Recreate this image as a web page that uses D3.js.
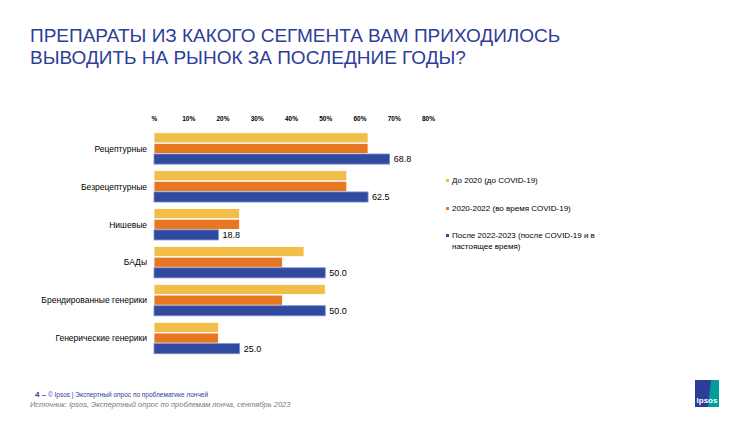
<!DOCTYPE html><html><head><meta charset="utf-8"><script src="https://cdn.jsdelivr.net/npm/d3@7"></script>
<style>body{margin:0;background:#fff}svg{font-family:"Liberation Sans",Arial,sans-serif}</style></head><body><svg width="750" height="422"></svg>
<script>
const categories=["Рецептурные","Безрецептурные","Нишевые","БАДы","Брендированные генерики","Генерические генерики"];
const series=["До 2020 (до COVID-19)","2020-2022 (во время COVID-19)","После 2022-2023 (после COVID-19 и в настоящее время)"];
const before=[62.5,56.3,25,43.8,50,18.8];
const during=[62.5,56.3,25,37.5,37.5,18.8];
const after=[68.8,62.5,18.8,50,50,25];
const ticks=[0,10,20,30,40,50,60,70,80];
const colors=["#F2BE4A","#E87722","#2F4A9E"];
const svg=d3.select("svg");
const x=d3.scaleLinear().domain([0,80]).range([154,428]);
const y=d3.scaleBand().domain(categories).range([132,355]).paddingInner(0.16).paddingOuter(0.02);
const sub=d3.scaleBand().domain([0,1,2]).range([0,y.bandwidth()]);
svg.append("text").attr("x",30).attr("y",42).attr("fill","#2E3D98").attr("font-size",19).text("ПРЕПАРАТЫ ИЗ КАКОГО СЕГМЕНТА ВАМ ПРИХОДИЛОСЬ");
svg.append("text").attr("x",30).attr("y",64).attr("fill","#2E3D98").attr("font-size",19).text("ВЫВОДИТЬ НА РЫНОК ЗА ПОСЛЕДНИЕ ГОДЫ?");
const ax=svg.append("g").attr("transform","translate(0,124)").call(d3.axisTop(x).tickValues(ticks).tickSize(0).tickFormat(d=>d===0?"%":d+"%"));
ax.select(".domain").remove();
ax.selectAll("text").attr("font-size",6.5).attr("font-weight","bold").attr("fill","#000").attr("font-family","Liberation Sans,Arial");
const data=[before,during,after];
data.forEach((arr,si)=>{
 svg.append("g").selectAll("rect").data(arr).join("rect")
  .attr("x",x(0)).attr("y",(d,i)=>y(categories[i])+sub(si)).attr("width",d=>x(d)-x(0)).attr("height",sub.bandwidth()-0.5)
  .attr("fill",colors[si]).attr("stroke",si==2?"#7B8FD0":"#fff").attr("stroke-width",0.8);
});
svg.append("g").selectAll("text").data(after).join("text").attr("x",d=>x(d)+4).attr("y",(d,i)=>y(categories[i])+sub(2)+sub.bandwidth()/2+3).attr("font-size",9).text(d=>d.toFixed(1));
svg.append("g").selectAll("text").data(categories).join("text").attr("x",147).attr("y",d=>y(d)+y.bandwidth()/2+3).attr("text-anchor","end").attr("font-size",8.5).text(d=>d);
const lg=[[183,[series[0]]],[211,[series[1]]],[238,["После 2022-2023 (после COVID-19 и в","настоящее время)"]]];
lg.forEach(([yy,lines],i)=>{
 svg.append("rect").attr("x",446).attr("y",yy-4).attr("width",3).attr("height",3).attr("fill",colors[i]);
 lines.forEach((t,j)=>svg.append("text").attr("x",452).attr("y",yy+j*11).attr("font-size",8).text(t));
});
svg.append("text").attr("x",35).attr("y",397).attr("font-size",6.5).attr("fill","#2E3D98").html('<tspan font-weight="bold" font-size="8">4 –</tspan> © Ipsos | Экспертный опрос по проблематике лончей');
svg.append("text").attr("x",30).attr("y",407).attr("font-size",7.5).attr("font-style","italic").attr("fill","#777").text("Источник: Ipsos, Экспертный опрос по проблемам лонча, сентябрь 2023");
const lgx=svg.append("g").attr("transform","translate(695,380)");
lgx.append("rect").attr("width",24).attr("height",27).attr("fill","#009D9A");
lgx.append("path").attr("d","M0,0H16L13,27H0Z").attr("fill","#2E3D98");
lgx.append("text").attr("x",12).attr("y",23).attr("text-anchor","middle").attr("fill","#fff").attr("font-size",8).attr("font-weight","bold").text("Ipsos");
</script></body></html>
